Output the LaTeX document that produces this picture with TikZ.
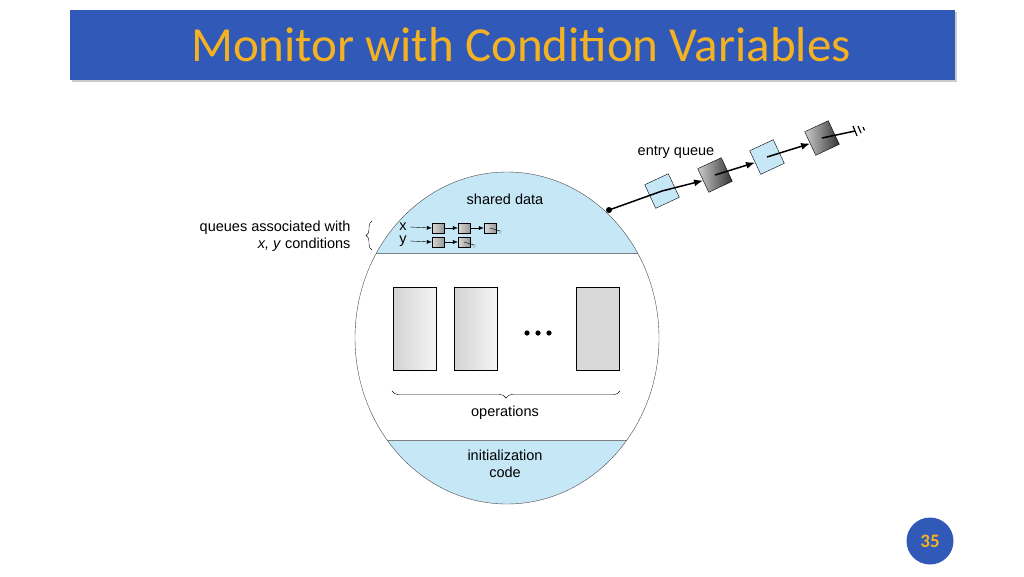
\documentclass[tikz,border=0pt]{standalone}
\usepackage{fontspec}
\setmainfont{Liberation Sans}
\newfontfamily\titlefont{Carlito}
\usetikzlibrary{decorations.pathreplacing,arrows.meta,shadows}
\definecolor{tblue}{HTML}{3159B8}
\definecolor{tgold}{HTML}{F4B223}
\definecolor{lblue}{HTML}{C6E7F6}
\begin{document}
\begin{tikzpicture}[x=1pt,y=-1pt,
  qbox/.style={draw,minimum size=26pt,inner sep=0pt,rotate=25,anchor=center},
  lq/.style={qbox,fill=lblue},
  dq/.style={qbox,left color=gray!40,right color=black!80},
  sq/.style={draw,minimum width=12pt,minimum height=10pt,inner sep=0pt,left color=gray!30,right color=gray!80},
  oprect/.style={draw,minimum width=43pt,minimum height=83pt,inner sep=0pt,left color=gray!35,right color=gray!8},
  lbl/.style={font=\fontsize{14.5}{17}\selectfont},
  arr/.style={-{Latex[length=9pt,width=7pt]},line width=1.5pt}]
\useasboundingbox (0,0) rectangle (1024,576);
\fill[white] (0,0) rectangle (1024,576);
% title
\node[fill=tblue,minimum width=885pt,minimum height=70pt,inner sep=0pt,drop shadow={opacity=0.4,shadow xshift=2pt,shadow yshift=-2pt}] (bar) at (512.5,45) {};
\node[text=tgold,font=\titlefont\fontsize{49}{50}\selectfont] (title) at (521,45) {Monitor with Condition Variables};
% ellipse
\begin{scope}
\clip (507,338) ellipse (152 and 166);
\fill[lblue] (300,160) rectangle (700,253);
\fill[lblue] (300,440) rectangle (700,520);
\draw[gray] (300,253) -- (700,253);
\draw[gray] (300,440) -- (700,440);
\end{scope}
\draw[gray!60!black] (507,338) ellipse (152 and 166);
\node[lbl] (sd) at (505,199) {shared data};
\node[lbl] (ops) at (505,413) {operations};
\node[lbl,align=center] (init) at (505,464) {initialization\\code};
% operations
\node[oprect] (o1) at (414.5,328.5) {};
\node[oprect] (o2) at (475.5,328.5) {};
\node[oprect,left color=gray!30,right color=gray!30] (o3) at (597.5,328.5) {};
\foreach \dx in {527,538,549} \fill (\dx,333) circle (2.6);
\draw[decorate,decoration={brace,amplitude=7pt,mirror}] (392,391) -- (620,391);
% x,y queues
\node[lbl] (xl) at (403,227) {x};
\node[lbl] (yl) at (403,241) {y};
\node[sq] (x1) at (438,228) {};
\node[sq] (x2) at (464,228) {};
\node[sq] (x3) at (490,228) {};
\node[sq] (y1) at (438,242) {};
\node[sq] (y2) at (464,242) {};
\draw[-{Latex[length=5pt,width=4pt]}] (xl.east) -- (x1.west);
\draw[-{Latex[length=5pt,width=4pt]}] (x1.east) -- (x2.west);
\draw[-{Latex[length=5pt,width=4pt]}] (x2.east) -- (x3.west);
\draw[-{Latex[length=5pt,width=4pt]}] (yl.east) -- (y1.west);
\draw[-{Latex[length=5pt,width=4pt]}] (y1.east) -- (y2.west);
\coordinate (xg) at (500,231);
\coordinate (yg) at (474,245);
\draw (x3.center) -- (xg) (498,231)--(502,231) (499,233)--(501,233);
\draw (y2.center) -- (yg) (472,245)--(476,245) (473,247)--(475,247);
% left label
\node[lbl,align=right,anchor=east] (ql) at (354,236) {queues associated with\\\textit{x, y} conditions};
\draw[decorate,decoration={brace,amplitude=6pt}] (372,250) -- (372,221);
% entry queue
\fill (609,210) circle (3);
\coordinate (ent) at (609,210);
\node[lq] (e1) at (662,191) {};
\node[dq] (e2) at (715,175) {};
\node[lq] (e3) at (767,157) {};
\node[dq] (e4) at (822,138) {};
\draw[line width=1.5pt] (ent) -- (e1.center);
\draw[arr] (e1.center) -- (e2.west);
\draw[arr] (e2.center) -- (e3.west);
\draw[arr] (e3.center) -- (e4.west);
\coordinate (gnd) at (855,131);
\draw[line width=1.5pt] (e4.center) -- (gnd);
\draw[line width=1.2pt] (853,126)--(857,136) (858,126)--(861,133) (863,127)--(864.5,130.5);
\node[lbl] (eq) at (676,152) {entry queue};
% page number
\node[circle,fill=tblue,minimum size=47pt,inner sep=0pt,text=tgold,font=\titlefont\bfseries\fontsize{19}{19}\selectfont] (pg) at (930,541) {35};
\end{tikzpicture}
\end{document}
